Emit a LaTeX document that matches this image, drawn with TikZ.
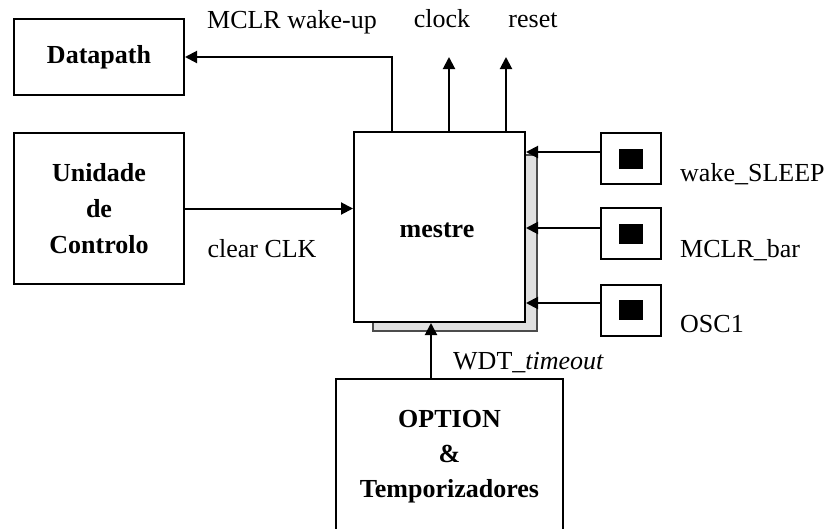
\documentclass[tikz,border=0pt]{standalone}
\usepackage{fontspec}
\setmainfont{Liberation Serif}
\usetikzlibrary{arrows.meta,calc}
\begin{document}
\begin{tikzpicture}[x=1pt,y=-1pt,
  box/.style={draw=black,line width=2pt,fill=white,inner sep=0pt,
    font=\fontsize{26}{36}\selectfont\bfseries,align=center},
  shadowbox/.style={draw=black!70,line width=1.2pt,fill=black!12,inner sep=0pt},
  pad/.style={draw=black,line width=2pt,fill=white,inner sep=0pt,minimum width=60pt,minimum height=51pt},
  padcore/.style={fill=black,inner sep=0pt,minimum width=24pt,minimum height=20pt},
  lbl/.style={font=\fontsize{26}{30}\selectfont,inner sep=0pt},
  arr/.style={line width=2pt,-{Triangle[length=12pt,width=12pt]}}]
\useasboundingbox (0,0) rectangle (828,528);

% boxes
\node[box,minimum width=170pt,minimum height=76pt] (dp) at (99,57) {Datapath};
\node[box,minimum width=170pt,minimum height=151pt] (uc) at (99,208.5) {Unidade\\de\\Controlo};
\node[shadowbox,minimum width=164pt,minimum height=176pt] (sh) at (455,243) {};
\node[box,minimum width=171pt,minimum height=190pt] (ms) at (439.5,227) {};
\node[font=\fontsize{26}{30}\selectfont\bfseries,inner sep=0pt] (mst) at (437,230) {mestre};
\node[box,minimum width=227pt,minimum height=162pt] (opt) at (449.5,460) {};
\node[font=\fontsize{26}{35}\selectfont\bfseries,align=center,inner sep=0pt] (optt) at (449.5,457) {OPTION\\\&\\Temporizadores};

% pads
\node[pad] (p1) at (631,158.5) {};
\node[padcore] (c1) at (p1.center) {};
\node[pad] (p2) at (631,233.5) {};
\node[padcore] (c2) at (p2.center) {};
\node[pad] (p3) at (631,310) {};
\node[padcore] (c3) at (p3.center) {};

% coordinates
\coordinate (xa) at (392,0);
\coordinate (xb) at (449,0);
\coordinate (xc) at (506,0);
\coordinate (top) at (0,57);
\coordinate (xw) at (431,0);

% connectors
\draw[arr] (ms.north -| xa) -- (top -| xa) -- (dp.east);
\draw[arr] (ms.north -| xb) -- (top -| xb);
\draw[arr] (ms.north -| xc) -- (top -| xc);
\draw[arr] (uc.east) -- (uc.east -| ms.west);
\draw[arr] ([yshift=6.5pt]p1.west) -- ([yshift=6.5pt]p1.west -| ms.east);
\draw[arr] ([yshift=5.5pt]p2.west) -- ([yshift=5.5pt]p2.west -| ms.east);
\draw[arr] ([yshift=7pt]p3.west) -- ([yshift=7pt]p3.west -| ms.east);
\draw[arr] (opt.north -| xw) -- (ms.south -| xw);

% labels
\node[lbl,anchor=base] (l1) at (292,28) {MCLR wake-up};
\node[lbl,anchor=base] (l2) at (442,27) {clock};
\node[lbl,anchor=base] (l3) at (533,27) {reset};
\node[lbl,anchor=base] (l4) at (262,257) {clear CLK};
\node[lbl,anchor=base west] (l5) at (680,181) {wake\_SLEEP};
\node[lbl,anchor=base west] (l6) at (680,257) {MCLR\_bar};
\node[lbl,anchor=base west] (l7) at (680,332) {OSC1};
\node[lbl,anchor=base west] (l8) at (453,369) {WDT\_\textit{timeout}};
\end{tikzpicture}
\end{document}
